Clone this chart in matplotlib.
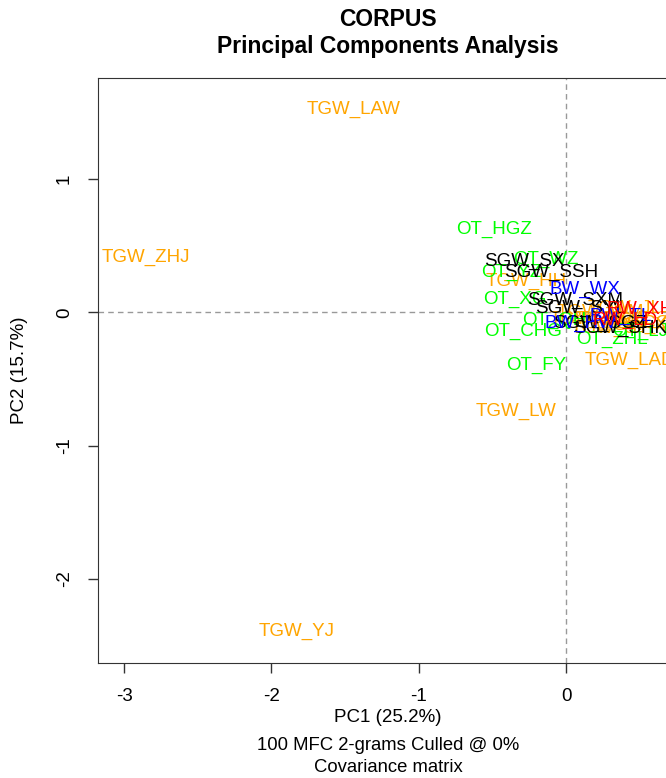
import matplotlib.pyplot as plt

plt.rcParams["font.family"] = ["Liberation Sans", "DejaVu Sans"]

# sample labels, PC1 / PC2 scores and group colours
labels = [
    "TGW_LAW", "TGW_ZHJ", "TGW_YJ", "TGW_LW", "TGW_LAD", "TGW_HH",
    "TGW_WM", "TGW_LZ", "TGW_CQ", "TGW_SY", "TGW_ZD", "TGW_JL",
    "TGW_PS", "TGW_XL",
    "OT_HGZ", "OT_FY", "OT_CHG", "OT_XG", "OT_WZ", "OT_YZ", "OT_QH",
    "OT_ZHL", "OT_LJ",
    "SGW_SX", "SGW_SSH", "SGW_SXM", "SGW_SYL", "SGW_SHK", "SGW_SGZ",
    "BW_WX", "BW_HW", "BW_TL",
    "RW_XH", "RW_LD",
]
pc1 = [
    -1.44, -2.85, -1.83, -0.34, 0.43, -0.27,
    0.23, 0.33, 0.43, 0.30, 0.54, 0.40,
    0.16, 0.50,
    -0.49, -0.20, -0.29, -0.35, -0.14, -0.37, -0.08,
    0.31, 0.50,
    -0.28, -0.10, 0.06, 0.10, 0.37, 0.23,
    0.13, 0.10, 0.37,
    0.50, 0.40,
]
pc2 = [
    1.52, 0.41, -2.39, -0.74, -0.36, 0.23,
    0.00, -0.05, -0.08, -0.12, -0.05, 0.03,
    -0.05, -0.10,
    0.62, -0.40, -0.14, 0.10, 0.40, 0.30, -0.06,
    -0.20, -0.14,
    0.38, 0.30, 0.09, 0.03, -0.12, -0.08,
    0.17, -0.08, -0.03,
    0.02, -0.06,
]
colors = (["#FFA500"] * 14 + ["#00FF00"] * 9 + ["black"] * 6
          + ["#0000FF"] * 3 + ["#FF0000"] * 2)

x_ticks = [-3, -2, -1, 0]
y_ticks = [-2, -1, 0, 1]

W, H = 666, 778
fig = plt.figure(figsize=(W / 100, H / 100), dpi=100)
ax = fig.add_axes([98 / W, (H - 663) / H, 580 / W, 585 / H])

ax.set_xlim(-3.177, 0.760)
ax.set_ylim(-2.63, 1.757)

ax.axvline(0, color="#999999", linestyle=(0, (4, 3)), linewidth=1)
ax.axhline(0, color="#999999", linestyle=(0, (4, 3)), linewidth=1)

for name, x, y, c in zip(labels, pc1, pc2, colors):
    ax.text(x, y, name, color=c, fontsize=13.5, ha="center", va="center",
            clip_on=False)

ax.set_xticks(x_ticks)
ax.set_xticklabels([str(v) for v in x_ticks])
ax.set_yticks(y_ticks)
ax.set_yticklabels([str(v) for v in y_ticks], rotation=90, va="center")
ax.tick_params(direction="out", length=7, width=1, labelsize=13.5,
               pad=11, color="#333333")
for side in ax.spines.values():
    side.set_color("#333333")

cx = (98 + 678) / 2 / W
fig.text(cx, 1 - 19 / H, "CORPUS", ha="center", va="center",
         fontsize=16.5, fontweight="bold")
fig.text(cx, 1 - 47 / H, "Principal Components Analysis", ha="center",
         va="center", fontsize=16.5, fontweight="bold")
fig.text(cx, 1 - 718 / H, "PC1 (25.2%)", ha="center", va="center",
         fontsize=13.5)
fig.text(cx, 1 - 745 / H, "100 MFC 2-grams Culled @ 0%", ha="center",
         va="center", fontsize=13.3)
fig.text(cx, 1 - 767 / H, "Covariance matrix", ha="center", va="center",
         fontsize=13.3)
fig.text(20 / W, 1 - 370 / H, "PC2 (15.7%)", ha="center", va="center",
         rotation=90, fontsize=13.5)

fig.savefig("out.png", dpi=100)
